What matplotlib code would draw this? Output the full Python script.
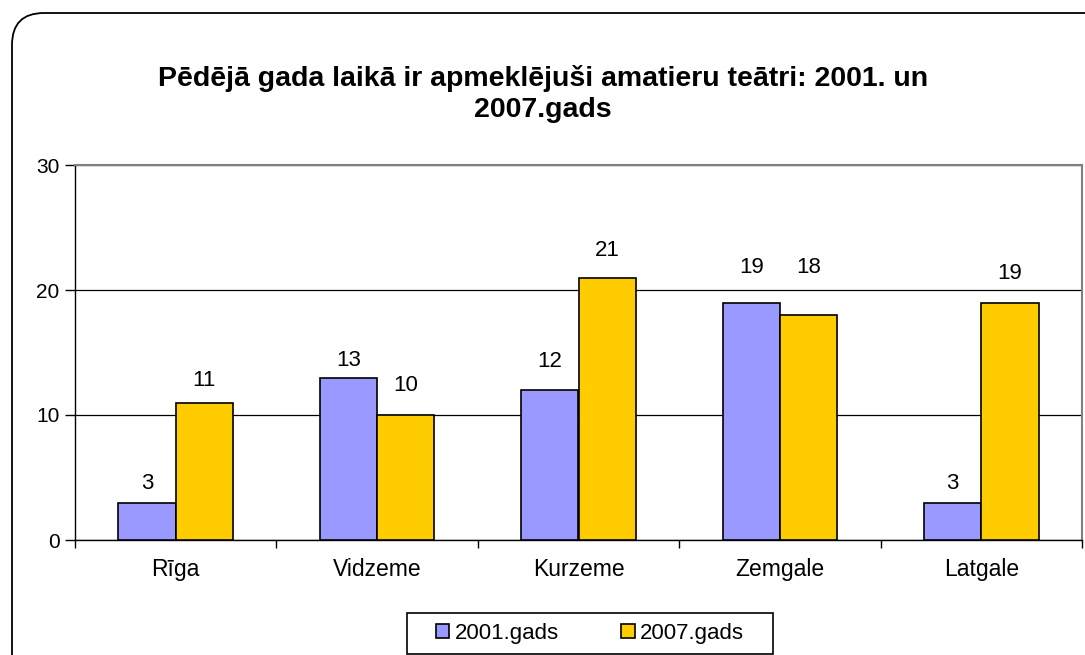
import matplotlib.pyplot as plt
import matplotlib.patches as mpatches
from matplotlib.transforms import IdentityTransform
import numpy as np

plt.rcParams['font.family'] = ['Liberation Sans', 'DejaVu Sans']

regions = ['Rīga', 'Vidzeme', 'Kurzeme', 'Zemgale', 'Latgale']
y2001 = [3, 13, 12, 19, 3]
y2007 = [11, 10, 21, 18, 19]
series_names = ['2001.gads', '2007.gads']

# label offsets above the bars (points), as placed in the original
off2001 = [6, 5, 13, 18, 6]
off2007 = [8, 13.5, 12, 27, 13.5]

fig = plt.figure(figsize=(10.85, 6.55), dpi=100)

# rounded outer frame (pixel coords)
frame = mpatches.FancyBboxPatch((12, -40), 1120, 642 + 40,
                                boxstyle="round,pad=0,rounding_size=32",
                                transform=IdentityTransform(),
                                facecolor='none', edgecolor='black', linewidth=1.3,
                                zorder=0)
fig.patches.append(frame)

ax = fig.add_axes([75 / 1085, 115 / 655, 1007 / 1085, 375 / 655])
ax.patch.set_alpha(0)
x = np.arange(len(regions))
w = 0.285
b1 = ax.bar(x - w / 2, y2001, w, color='#9999FF', edgecolor='black', linewidth=1.2,
            label=series_names[0], zorder=3)
b2 = ax.bar(x + w / 2, y2007, w, color='#FFCC00', edgecolor='black', linewidth=1.2,
            label=series_names[1], zorder=3)

for bars, offs in ((b1, off2001), (b2, off2007)):
    for r, o in zip(bars, offs):
        ax.annotate(str(int(r.get_height())), (r.get_x() + r.get_width() / 2, r.get_height()),
                    xytext=(0, o), textcoords='offset points', ha='center', va='bottom',
                    fontsize=16)

ax.set_xlim(-0.5, len(regions) - 0.5)
ax.set_ylim(0, 30)
ax.set_yticks([0, 10, 20, 30])
ax.tick_params(axis='y', direction='out', length=7, width=1, labelsize=15, pad=4)
ax.set_xticks(x)
ax.set_xticklabels(regions)
ax.tick_params(axis='x', which='major', length=0, labelsize=16.5, pad=13)
ax.set_xticks(np.arange(len(regions) + 1) - 0.5, minor=True)
ax.tick_params(axis='x', which='minor', direction='out', length=6, width=1)

ax.grid(axis='y', color='black', linewidth=0.9, zorder=0)
ax.spines['top'].set_color('#808080')
ax.spines['right'].set_color('#808080')
ax.spines['top'].set_linewidth(1.5)
ax.spines['right'].set_linewidth(1.5)
ax.spines['left'].set_linewidth(1)
ax.spines['bottom'].set_linewidth(1)

fig.text(543 / 1085, 1 - 94 / 655,
         'Pēdējā gada laikā ir apmeklējuši amatieru teātri: 2001. un\n2007.gads',
         ha='center', va='center', fontsize=20.5, fontweight='bold', linespacing=1.25)

leg = fig.legend(loc='center', bbox_to_anchor=(590 / 1085, 1 - 633 / 655), ncol=2,
                 fontsize=16, frameon=False,
                 handlelength=0.6, handleheight=0.6, handletextpad=0.25,
                 columnspacing=2.8, borderpad=0.4)
# legend box drawn separately (wider than the entries, like the original)
legbox = mpatches.Rectangle((407, 1), 366, 41, transform=IdentityTransform(),
                            facecolor='none', edgecolor='black', linewidth=1.2)
fig.patches.append(legbox)

fig.savefig('out.png', dpi=100)
